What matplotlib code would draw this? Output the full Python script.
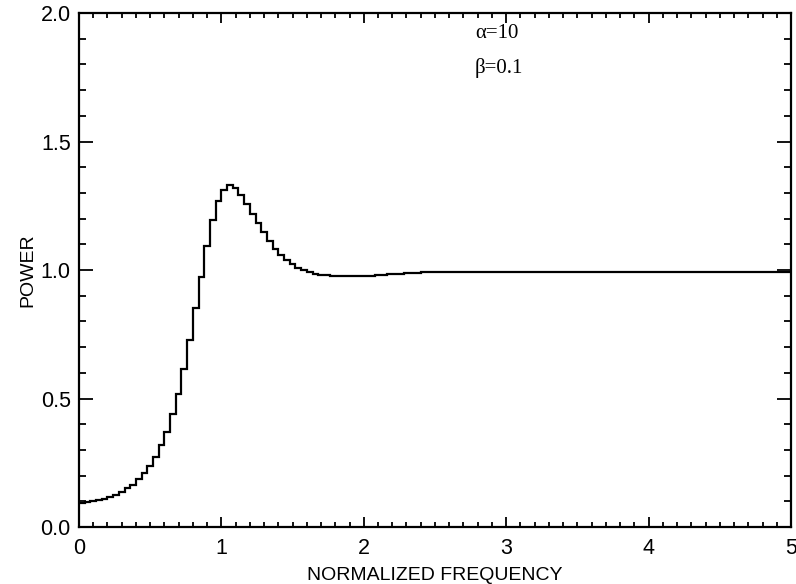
import numpy as np
import matplotlib
matplotlib.use("Agg")
import matplotlib.pyplot as plt
from matplotlib.ticker import MultipleLocator, FormatStrFormatter

# power per frequency bin, bin width 0.04 from 0 to 5
bin_width = 0.04
power = [
    0.094, 0.097, 0.100, 0.104, 0.109, 0.116, 0.125, 0.137, 0.150, 0.163,
    0.185, 0.211, 0.237, 0.271, 0.319, 0.371, 0.440, 0.518, 0.615, 0.728,
    0.853, 0.974, 1.093, 1.195, 1.270, 1.311, 1.329, 1.318, 1.292, 1.258,
    1.219, 1.182, 1.147, 1.113, 1.082, 1.058, 1.039, 1.022, 1.009, 1.000,
    0.991, 0.986, 0.982, 0.979, 0.977, 0.976, 0.975, 0.975, 0.975, 0.976,
    0.977, 0.978, 0.980, 0.981, 0.983, 0.985, 0.986, 0.988, 0.989, 0.990,
    0.991, 0.992, 0.992, 0.993, 0.993, 0.993, 0.993, 0.993, 0.993, 0.993,
    0.993, 0.993, 0.993, 0.993, 0.993, 0.993, 0.993, 0.993, 0.993, 0.993,
    0.993, 0.993, 0.993, 0.993, 0.993, 0.993, 0.993, 0.993, 0.993, 0.993,
    0.993, 0.993, 0.993, 0.993, 0.993, 0.993, 0.993, 0.993, 0.993, 0.993,
    0.993, 0.993, 0.993, 0.993, 0.993, 0.993, 0.993, 0.993, 0.993, 0.993,
    0.993, 0.993, 0.993, 0.993, 0.993, 0.993, 0.993, 0.993, 0.993, 0.993,
    0.993, 0.993, 0.993, 0.993, 0.993,
]
edges = np.arange(len(power) + 1) * bin_width

alpha_txt = "\u03b1=10"
beta_txt = "\u03b2=0.1"

plt.rcParams['font.family'] = ['Liberation Sans', 'DejaVu Sans']

fig = plt.figure(figsize=(7.96, 5.84), dpi=100)
ax = fig.add_axes([0.0992, 0.0976, 0.8945, 0.8801])

ax.stairs(power, edges, color='black', linewidth=1.6, baseline=None)

ax.set_xlim(0, 5)
ax.set_ylim(0, 2)
ax.xaxis.set_major_locator(MultipleLocator(1))
ax.xaxis.set_minor_locator(MultipleLocator(0.1))
ax.yaxis.set_major_locator(MultipleLocator(0.5))
ax.yaxis.set_minor_locator(MultipleLocator(0.1))
ax.yaxis.set_major_formatter(FormatStrFormatter('%.1f'))

ax.tick_params(axis='both', which='both', direction='in', top=True, right=True,
               labelsize=15.5, width=1.3, colors='black')
ax.tick_params(axis='x', which='major', length=7.5, pad=8)
ax.tick_params(axis='x', which='minor', length=3.6)
ax.tick_params(axis='y', which='major', length=10, pad=6)
ax.tick_params(axis='y', which='minor', length=5)
for s in ax.spines.values():
    s.set_linewidth(1.6)

ax.set_xlabel('NORMALIZED FREQUENCY', fontsize=14, labelpad=6)
ax.set_ylabel('POWER', fontsize=14, labelpad=3)

ax.text(2.78, 1.92, alpha_txt, fontsize=15, family='Liberation Serif', va='center')
ax.text(2.78, 1.786, beta_txt, fontsize=15, family='Liberation Serif', va='center')

fig.savefig('out.png', dpi=100)
